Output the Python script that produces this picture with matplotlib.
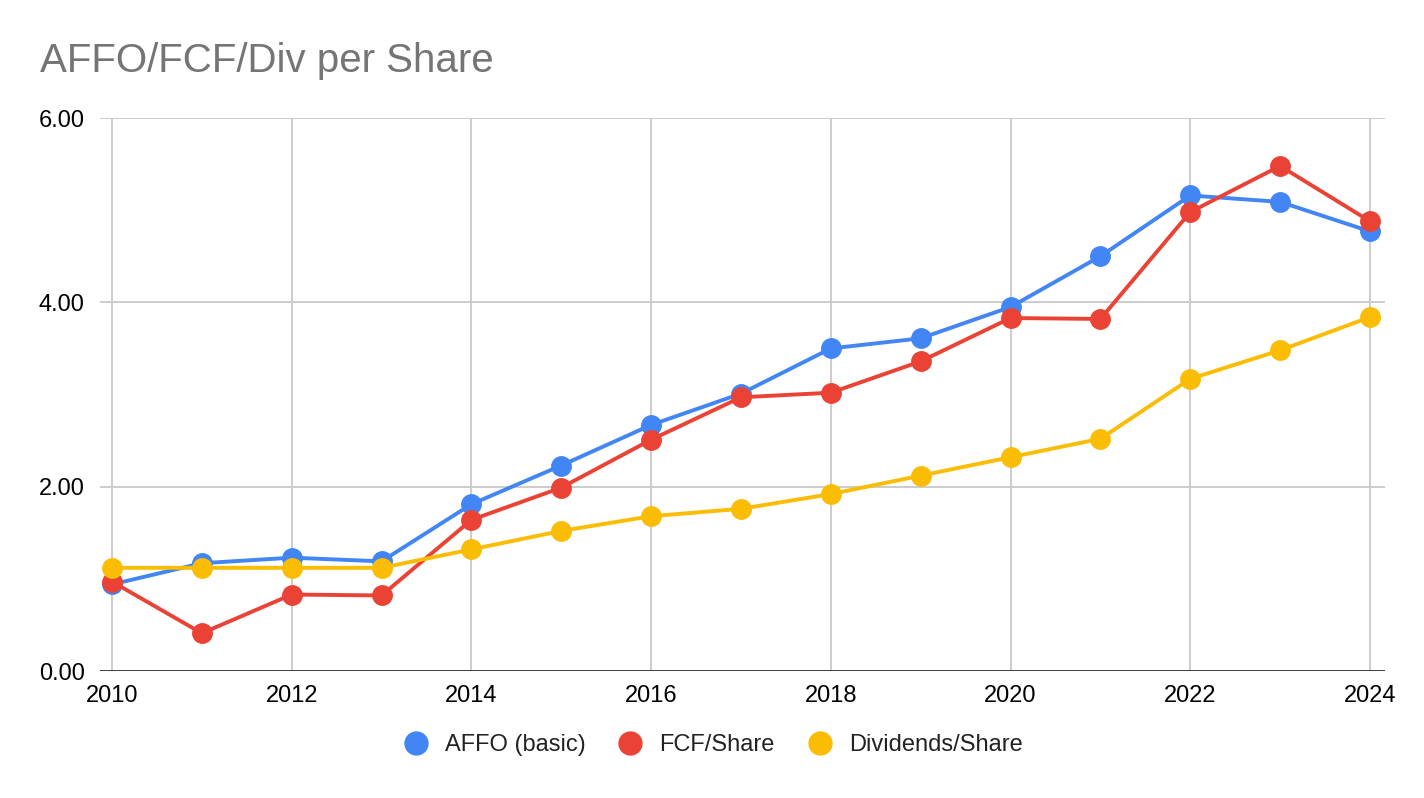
import matplotlib
matplotlib.use("Agg")
from matplotlib import pyplot as plt
from matplotlib.lines import Line2D

years = list(range(2010, 2025))
affo = [0.94, 1.17, 1.23, 1.19, 1.81, 2.23, 2.67, 3.01, 3.50, 3.61, 3.95, 4.50, 5.16, 5.09, 4.77]
fcf = [0.97, 0.41, 0.83, 0.82, 1.64, 1.99, 2.51, 2.97, 3.02, 3.36, 3.83, 3.82, 4.98, 5.48, 4.88]
divs = [1.12, 1.12, 1.12, 1.12, 1.32, 1.52, 1.68, 1.76, 1.92, 2.12, 2.32, 2.52, 3.17, 3.48, 3.84]

series_names = ["AFFO (basic)", "FCF/Share", "Dividends/Share"]
colors = ["#4285F4", "#EA4335", "#FBBC04"]
y_ticks = [0, 2, 4, 6]
x_ticks = list(range(2010, 2025, 2))

plt.rcParams["font.family"] = ["Liberation Sans", "DejaVu Sans"]

fig = plt.figure(figsize=(14.24, 7.98), dpi=100)
ax = fig.add_axes([0.0702, 0.1591, 0.9024, 0.693])

for vals, c in zip([affo, fcf, divs], colors):
    ax.plot(years, vals, color=c, lw=2.8, marker="o", ms=14, zorder=3)

ax.set_xlim(2009.866, 2024.167)
ax.set_ylim(0, 6)
ax.set_yticks(y_ticks)
ax.set_yticklabels([f"{v:.2f}" for v in y_ticks])
ax.set_xticks(x_ticks)
ax.set_xticklabels([str(v) for v in x_ticks])
ax.tick_params(length=0, labelsize=17, colors="#000000")
ax.tick_params(axis="x", pad=10)
ax.tick_params(axis="y", pad=11)

ax.grid(color="#cccccc", lw=1.4, zorder=0)
ax.set_axisbelow(True)
ax.axhline(0, color="#333333", lw=2.0, zorder=2)
for s in ax.spines.values():
    s.set_visible(False)

fig.text(40 / 1424, 1 - 72 / 798, "AFFO/FCF/Div per Share", fontsize=29,
         color="#757575", va="baseline", ha="left")

handles = [Line2D([], [], ls="", marker="o", ms=16.5, color=c) for c in colors]
fig.legend(handles, series_names, loc="center", bbox_to_anchor=(712 / 1424, 1 - 745 / 798),
           ncol=3, frameon=False, fontsize=17, handlelength=1.2, handletextpad=0.63,
           columnspacing=1.3, borderpad=0, labelcolor="#222222")

fig.savefig("out.png", dpi=100)
